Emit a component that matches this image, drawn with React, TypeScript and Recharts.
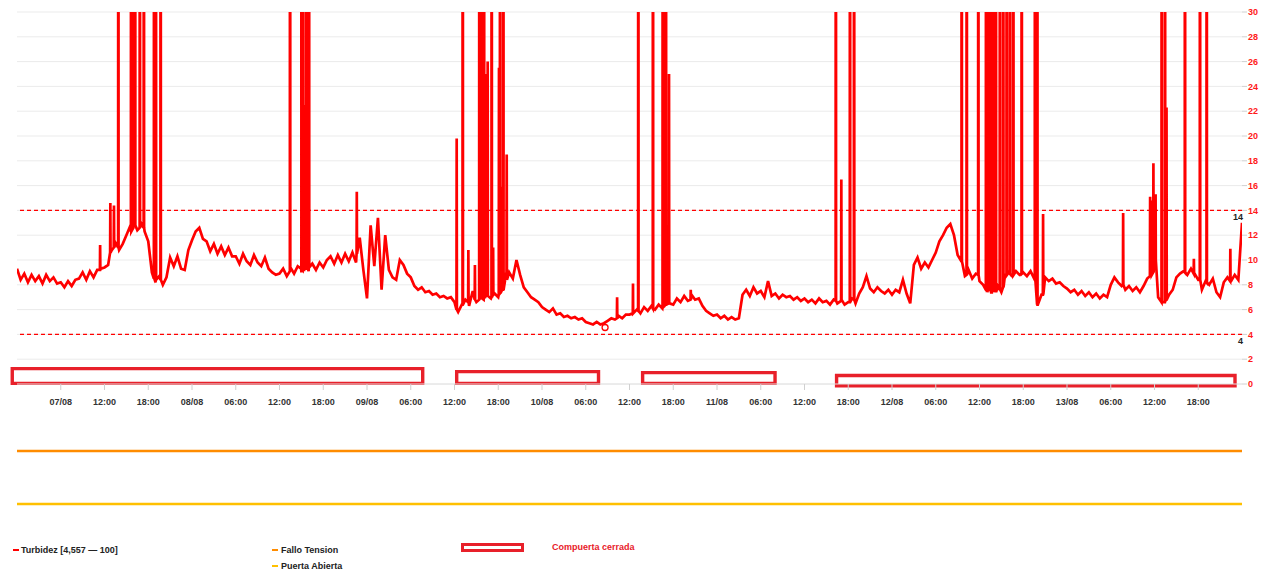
import React from 'react';
import {
  LineChart, Line, XAxis, YAxis, CartesianGrid, ReferenceLine, ReferenceArea, ReferenceDot,
} from 'recharts';

const FONT = '"Liberation Sans", Arial, Helvetica, sans-serif';

// Time axis: hours, 0 = tick "07/08"
const tickHours = [0, 6, 12, 18, 24, 30, 36, 42, 48, 54, 60, 66, 72, 78, 84, 90, 96, 102, 108, 114, 120, 126, 132, 138, 144, 150, 156];
const tickLabels = ['07/08', '12:00', '18:00', '08/08', '06:00', '12:00', '18:00', '09/08', '06:00', '12:00', '18:00', '10/08', '06:00', '12:00', '18:00', '11/08', '06:00', '12:00', '18:00', '12/08', '06:00', '12:00', '18:00', '13/08', '06:00', '12:00', '18:00'];
const yTicks = [0, 2, 4, 6, 8, 10, 12, 14, 16, 18, 20, 22, 24, 26, 28, 30];

// Turbidez base readings, every 0.5 h from -6 h
const baseStart = -6;
const baseStep = 0.5;
const turbidezBase = [
  9.3, 8.4, 8.9, 8.2, 8.8, 8.3, 8.7, 8.1, 8.8, 8.3, 8.6, 8.1,
  8.2, 7.8, 8.3, 7.9, 8.4, 8.5, 9.0, 8.4, 9.1, 8.6, 9.2, 9.3,
  9.4, 9.6, 10.8, 11.4, 10.8, 11.3, 12.0, 12.7, 13.1, 12.4, 13.0, 12.3,
  11.5, 9.0, 8.2, 8.7, 8.0, 8.6, 10.2, 9.5, 10.3, 9.3, 9.2, 10.8,
  11.6, 12.3, 12.6, 11.7, 11.5, 10.7, 11.3, 10.5, 11.1, 10.4, 11.0, 10.3,
  10.3, 9.7, 10.5, 9.9, 9.6, 10.4, 9.8, 9.5, 10.2, 9.3, 9.0, 8.8,
  8.9, 9.3, 8.7, 9.4, 8.9, 9.5, 9.0, 9.6, 9.1, 9.7, 9.2, 9.8,
  9.4, 10.0, 10.3, 9.7, 10.4, 9.8, 10.5, 9.9, 10.6, 9.8, 11.8, 9.2,
  6.9, 12.8, 9.5, 13.4, 7.6, 12.0, 9.2, 8.6, 8.4, 10.0, 9.6, 8.9,
  8.6, 7.9, 7.6, 7.8, 7.4, 7.5, 7.2, 7.3, 7.0, 7.1, 6.9, 7.0,
  6.6, 5.8, 6.4, 6.8, 6.3, 7.5, 6.6, 7.2, 6.8, 7.4, 6.9, 7.3,
  7.0, 7.6, 8.6, 9.0, 8.5, 10.0, 8.8, 7.8, 7.4, 7.0, 6.8, 6.6,
  6.2, 6.0, 5.8, 6.1, 5.6, 5.7, 5.4, 5.5, 5.3, 5.4, 5.2, 5.3,
  5.0, 4.9, 4.8, 5.0, 4.8, 4.9, 5.1, 5.3, 5.2, 5.5, 5.3, 5.6,
  5.6, 5.8, 6.0, 5.7, 6.2, 5.9, 6.3, 6.0, 6.4, 6.1, 6.3, 6.5,
  6.4, 6.9, 6.6, 7.1, 6.7, 7.2, 6.8, 6.9, 6.3, 5.9, 5.7, 5.5,
  5.6, 5.3, 5.5, 5.2, 5.4, 5.2, 5.3, 7.2, 7.6, 7.1, 7.8, 7.3,
  7.5, 7.0, 8.3, 7.1, 7.3, 6.9, 7.2, 7.0, 7.1, 6.8, 7.0, 6.7,
  6.9, 6.6, 6.8, 6.5, 6.9, 6.6, 6.7, 6.4, 6.8, 6.5, 6.7, 6.4,
  6.6, 6.9, 6.5, 7.3, 7.8, 8.7, 7.7, 7.4, 7.8, 7.5, 7.3, 7.6,
  7.2, 7.6, 7.4, 8.4, 7.3, 6.5, 9.6, 10.2, 9.3, 9.8, 9.4, 10.0,
  10.6, 11.5, 12.0, 12.6, 12.9, 12.0, 10.4, 9.9, 8.7, 9.2, 8.5, 8.9,
  8.3, 8.0, 7.6, 8.1, 7.5, 7.9, 7.4, 8.8, 9.0, 8.7, 9.1, 8.8,
  9.0, 8.7, 9.1, 8.5, 6.4, 7.2, 8.6, 8.3, 8.5, 8.1, 8.2, 7.9,
  7.7, 7.4, 7.6, 7.2, 7.5, 7.1, 7.4, 7.0, 7.3, 6.9, 7.2, 7.0,
  8.0, 8.6, 8.2, 7.9, 7.6, 7.9, 7.5, 7.8, 7.4, 7.9, 8.5, 9.0,
  10.5, 7.0, 6.5, 6.8, 7.2, 7.6, 8.6, 8.9, 9.1, 8.8, 9.3, 8.9,
  8.4, 7.6, 8.3, 8.0, 8.5, 7.4, 7.0, 8.2, 8.6, 8.3, 8.8, 8.4,
  13.0,
];

// Spikes: [hour, peak, level around the spike]
const turbidezSpikes: [number, number, number][] = [
  [5.4, 11.2, 9.2], [6.8, 14.6, 10.6], [7.3, 14.4, 11.0], [7.9, 100, 11.0],
  [9.65, 100, 12.3], [9.9, 100, 12.5], [10.2, 100, 12.8], [10.85, 100, 12.6], [11.4, 100, 12.6],
  [12.8, 100, 8.5], [13.05, 100, 8.4], [13.7, 100, 8.4],
  [31.45, 100, 9.1], [33.0, 100, 9.3], [33.2, 100, 9.2], [33.4, 22.5, 9.2], [33.65, 100, 9.3], [33.85, 100, 9.3], [34.05, 100, 9.4],
  [40.6, 15.5, 10.5],
  [54.3, 19.8, 6.0], [55.13, 100, 6.4], [55.9, 10.8, 6.6], [56.8, 9.6, 6.8], [57.41, 100, 6.8], [57.74, 100, 6.9], [58.05, 100, 7.0],
  [58.19, 25.0, 7.0], [58.55, 26.0, 7.1], [59.1, 100, 7.0], [59.3, 11.0, 7.2], [60.1, 25.5, 7.2], [60.25, 100, 7.3],
  [60.38, 15.9, 7.4], [60.7, 100, 7.6], [61.16, 18.5, 8.4],
  [76.3, 7.0, 5.3], [78.48, 8.1, 5.7], [79.21, 100, 5.9], [81.22, 100, 6.1], [82.56, 100, 6.3], [82.78, 100, 6.3],
  [83.0, 100, 6.4], [83.42, 25.0, 6.5], [86.4, 7.6, 6.8],
  [106.3, 100, 6.7], [107.05, 16.5, 6.8], [108.24, 100, 6.6], [108.8, 100, 6.8],
  [123.56, 100, 9.9], [124.25, 100, 8.8], [125.84, 100, 8.8],
  [126.9, 100, 7.6], [127.05, 100, 7.4], [127.2, 100, 7.8], [127.35, 100, 7.5], [127.5, 100, 7.6],
  [127.65, 100, 7.3], [127.8, 100, 7.7], [127.95, 100, 7.5], [128.1, 100, 7.8], [128.25, 100, 7.4],
  [128.8, 100, 7.6], [129.26, 100, 7.8], [129.73, 100, 8.8], [130.18, 100, 8.9], [130.64, 100, 8.8], [131.79, 100, 8.9],
  [133.61, 100, 8.6], [133.93, 100, 6.4], [134.72, 13.7, 7.2],
  [145.7, 13.8, 8.0], [149.4, 15.1, 8.7], [149.6, 14.8, 8.8], [149.85, 17.8, 9.0], [150.15, 15.3, 10.0],
  [150.99, 100, 6.6], [151.44, 100, 6.6], [151.65, 22.3, 6.8],
  [154.18, 100, 9.0], [155.4, 10.1, 8.9], [156.24, 100, 8.4], [157.16, 100, 8.2], [160.4, 10.9, 8.3],
];

const turbidezMin = { t: 74.65, v: 4.557 };

// Compuerta cerrada periods: [start h, end h, low, high]
const compuertaCerrada: [number, number, number, number][] = [
  [-6.65, 49.64, 0.05, 1.24],
  [54.3, 73.75, 0.05, 1.0],
  [79.8, 97.96, 0.05, 0.92],
  [106.4, 161.04, -0.14, 0.68],
];

const umbralAlto = 14;
const umbralBajo = 4;

const falloTensionTimes = [-6, 162];
const falloTensionValues = [0, 0];
const puertaAbiertaTimes = [-6, 162];
const puertaAbiertaValues = [0, 0];

const turbidezData = (() => {
  const pts = turbidezBase.map((v, i) => ({ t: baseStart + i * baseStep, v }));
  turbidezSpikes.forEach(([t, peak, base]) => {
    pts.push({ t: t - 0.03, v: base }, { t, v: peak }, { t: t + 0.03, v: base });
  });
  pts.sort((a, b) => a.t - b.t);
  return pts;
})();

const falloData = falloTensionTimes.map((t, i) => ({ t, v: falloTensionValues[i] }));
const puertaData = puertaAbiertaTimes.map((t, i) => ({ t, v: puertaAbiertaValues[i] }));

const BOX_RED = '#e8202a';

const refLabel = (txt: string) => (props: any) => {
  const vb = props.viewBox || {};
  const x = (vb.x || 0) + (vb.width || 0) + 1;
  const y = (vb.y || 0) + 10;
  return (
    <text x={x} y={y} textAnchor="end" fill="#222" fontSize={9} fontWeight="bold" fontFamily={FONT}>
      {txt}
    </text>
  );
};

function SignalChart({ data, color, top }: { data: { t: number; v: number }[]; color: string; top: number }) {
  return (
    <div style={{ position: 'absolute', left: 0, top }}>
      <LineChart width={1269} height={20} data={data} margin={{ top: 0, right: 27, left: 17, bottom: 0 }}>
        <XAxis dataKey="t" type="number" domain={[-6, 162]} hide />
        <YAxis type="number" domain={[-1, 1]} hide />
        <Line dataKey="v" stroke={color} strokeWidth={2.5} dot={false} isAnimationActive={false} type="linear" />
      </LineChart>
    </div>
  );
}

export default function App() {
  return (
    <div style={{ position: 'absolute', left: 0, top: 0, width: 1269, height: 574, background: '#fff', fontFamily: FONT }}>
      <div style={{ position: 'absolute', left: 0, top: 0 }}>
        <LineChart width={1269} height={420} data={turbidezData} margin={{ top: 12, right: 0, left: 17, bottom: 6 }}>
          <CartesianGrid vertical={false} stroke="#ebebeb" />
          <XAxis
            dataKey="t"
            type="number"
            domain={[-6, 162]}
            ticks={tickHours}
            interval={0}
            allowDataOverflow
            tickFormatter={(h: number) => tickLabels[tickHours.indexOf(h)] ?? ''}
            tick={{ fill: '#333', fontSize: 9, fontWeight: 'bold', fontFamily: FONT }}
            tickLine={{ stroke: '#d0d0d0' }}
            axisLine={{ stroke: '#e2e2e2' }}
            tickSize={6}
            tickMargin={9}
            height={30}
          />
          <YAxis
            orientation="right"
            type="number"
            domain={[0, 30]}
            ticks={yTicks}
            interval={0}
            allowDataOverflow
            width={27}
            axisLine={false}
            tickLine={{ stroke: '#d0d0d0' }}
            tickSize={5}
            tickMargin={1}
            tick={{ fill: '#ff1a1a', fontSize: 9, fontWeight: 'bold', fontFamily: FONT }}
          />
          <ReferenceLine y={umbralAlto} stroke="#ff0000" strokeWidth={1.3} strokeDasharray="4 3" label={refLabel(String(umbralAlto))} />
          <ReferenceLine y={umbralBajo} stroke="#ff0000" strokeWidth={1.3} strokeDasharray="4 3" label={refLabel(String(umbralBajo))} />
          {compuertaCerrada.map(([x1, x2, y1, y2], i) => (
            <ReferenceArea
              key={i}
              x1={x1}
              x2={x2}
              y1={y1}
              y2={y2}
              ifOverflow="visible"
              fill="#ffffff"
              fillOpacity={1}
              stroke={BOX_RED}
              strokeWidth={3.4}
            />
          ))}
          <Line dataKey="v" stroke="#ff0000" strokeWidth={2.7} strokeLinejoin="miter" dot={false} isAnimationActive={false} type="linear" />
          <ReferenceDot x={turbidezMin.t} y={turbidezMin.v} r={3} fill="#ffffff" stroke="#ff0000" strokeWidth={1.3} ifOverflow="visible" />
        </LineChart>
      </div>
      <SignalChart data={falloData} color="#ff8c00" top={441} />
      <SignalChart data={puertaData} color="#ffc000" top={494} />
      <svg width={1269} height={574} style={{ position: 'absolute', left: 0, top: 0, pointerEvents: 'none' }}>
        <g fontFamily={FONT} fontSize={9} fontWeight="bold">
          <line x1={13} x2={19} y1={550} y2={550} stroke="#ff0000" strokeWidth={2} />
          <text x={21} y={553} fill="#222">Turbidez [4,557 — 100]</text>
          <line x1={272} x2={278} y1={550} y2={550} stroke="#ff8c00" strokeWidth={2} />
          <text x={281} y={553} fill="#222">Fallo Tension</text>
          <line x1={272} x2={278} y1={566} y2={566} stroke="#ffc000" strokeWidth={2} />
          <text x={281} y={569} fill="#222">Puerta Abierta</text>
          <rect x={462.5} y={544.5} width={60} height={6} fill="#fff" stroke={BOX_RED} strokeWidth={3} />
          <text x={552} y={550} fill={BOX_RED}>Compuerta cerrada</text>
        </g>
      </svg>
    </div>
  );
}
